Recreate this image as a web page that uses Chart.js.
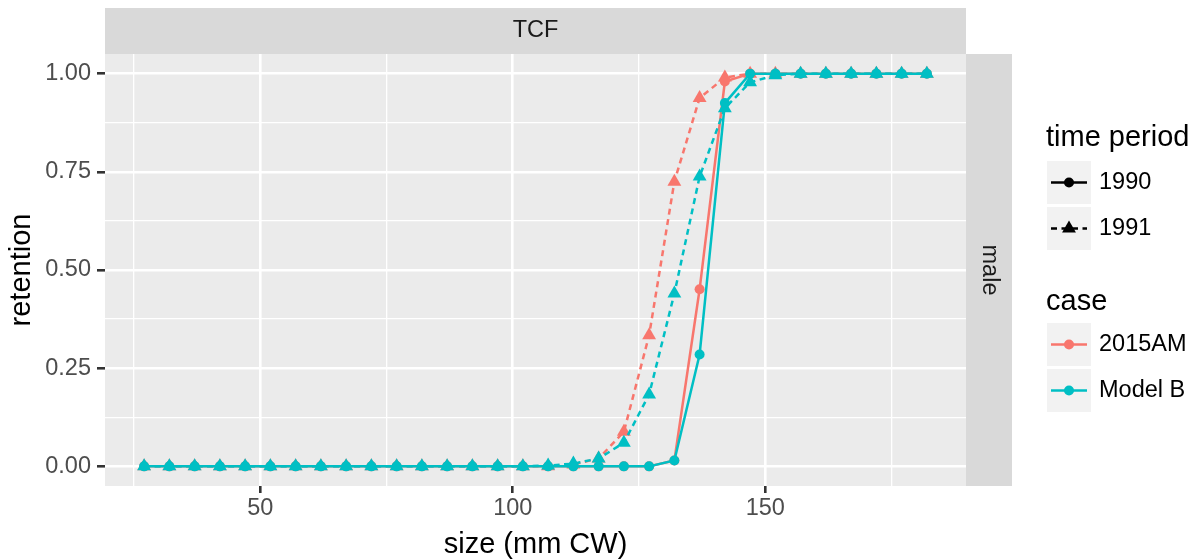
<!DOCTYPE html>
<html><head><meta charset="utf-8">
<script src="https://cdn.jsdelivr.net/npm/chart.js@4.4.1/dist/chart.umd.min.js"></script>
<style>html,body{margin:0;padding:0;background:#fff;}#wrap{width:1196px;height:559px;position:relative;}</style>
</head><body><div id="wrap"><canvas id="c" width="1196" height="559"></canvas></div>
<script>
// ---------- data ----------
const sizes = [27,32,37,42,47,52,57,62,67,72,77,82,87,92,97,102,107,112,117,122,127,132,137,142,147,152,157,162,167,172,177,182];
const am1990 = [0,0,0,0,0,0,0,0,0,0,0,0,0,0,0,0,0,0,0,0,0,0.015,0.451,0.98,1,1,1,1,1,1,1,1];
const am1991 = [0,0,0,0,0,0,0,0,0,0,0,0,0,0,0,0,0,0.005,0.02,0.088,0.334,0.725,0.938,0.99,1,1,1,1,1,1,1,1];
const mb1990 = [0,0,0,0,0,0,0,0,0,0,0,0,0,0,0,0,0,0,0,0,0,0.015,0.285,0.925,1,1,1,1,1,1,1,1];
const mb1991 = [0,0,0,0,0,0,0,0,0,0,0,0,0,0,0,0,0.002,0.007,0.02,0.06,0.183,0.44,0.738,0.912,0.978,0.996,1,1,1,1,1,1];
const xMajor = [50,100,150];
const xMinor = [25,75,125,175];
const yMajor = [0,0.25,0.5,0.75,1];
const yMinor = [0.125,0.375,0.625,0.875];
const stripTopText = 'TCF';
const stripRightText = 'male';
const periods = ['1990','1991'];
const cases = ['2015AM','Model B'];
const xTitle = 'size (mm CW)';
const yTitle = 'retention';

// ---------- style ----------
const RED = '#F8766D', TEAL = '#00BFC4';
const FONT = "'Liberation Sans', Arial, Helvetica, sans-serif";
const LW = 2.5, DASH = [6,4.5], RC = 5, RT = 8;

function pts(vals){ return sizes.map((s,i)=>({x:s,y:vals[i]})); }
function ds(label, vals, color, dashed){
  return {label, data: pts(vals), borderColor: color, backgroundColor: color,
    borderWidth: LW, borderDash: dashed ? DASH : [], pointStyle: dashed ? 'triangle' : 'circle',
    pointRadius: dashed ? RT : RC, pointBorderWidth: 0, pointHoverRadius: dashed?RT:RC,
    tension: 0, fill: false};
}

const bgPlugin = {
  id: 'ggbg',
  beforeDraw(chart){
    const {ctx, chartArea: a} = chart;
    ctx.save();
    ctx.fillStyle = '#FFFFFF'; ctx.fillRect(0,0,chart.width,chart.height);
    ctx.fillStyle = '#EBEBEB'; ctx.fillRect(a.left, a.top, a.right-a.left, a.bottom-a.top);
    // strips
    ctx.fillStyle = '#D9D9D9';
    ctx.fillRect(a.left, 8, a.right-a.left, a.top-8);
    ctx.fillRect(a.right, a.top, 46, a.bottom-a.top);
    ctx.fillStyle = '#1A1A1A';
    ctx.font = '23.5px ' + FONT;
    ctx.textAlign = 'center'; ctx.textBaseline = 'middle';
    ctx.fillText(stripTopText, (a.left+a.right)/2, (8+a.top)/2);
    ctx.translate(a.right+23, (a.top+a.bottom)/2);
    ctx.rotate(Math.PI/2);
    ctx.fillText(stripRightText, 0, 0);
    ctx.restore();
  },
  afterDraw(chart){
    const ctx = chart.ctx;
    ctx.save();
    const kx = 1047, kw = 44, kh = 43;
    function key(y, color, dashed){
      ctx.fillStyle = '#F2F2F2'; ctx.fillRect(kx, y, kw, kh);
      const cy = y + kh/2, cx = kx + kw/2;
      ctx.strokeStyle = color; ctx.lineWidth = LW;
      ctx.setLineDash(dashed ? DASH : []);
      ctx.beginPath(); ctx.moveTo(kx+4, cy); ctx.lineTo(kx+kw-4, cy); ctx.stroke();
      ctx.setLineDash([]);
      ctx.fillStyle = color;
      Chart.helpers.drawPoint(ctx, {pointStyle: dashed?'triangle':'circle', radius: dashed?RT:RC, borderWidth:0}, cx, cy);
    }
    ctx.textAlign = 'left'; ctx.textBaseline = 'middle';
    ctx.fillStyle = '#000'; ctx.font = '29px ' + FONT;
    ctx.fillText('time period', 1046, 138);
    key(161, '#000000', false);
    key(207, '#000000', true);
    ctx.fillStyle = '#000'; ctx.font = '23.5px ' + FONT;
    ctx.fillText(periods[0], 1099, 183);
    ctx.fillText(periods[1], 1099, 229);
    ctx.fillStyle = '#000'; ctx.font = '29px ' + FONT;
    ctx.fillText('case', 1046, 302);
    key(323, RED, false);
    key(369, TEAL, false);
    ctx.fillStyle = '#000'; ctx.font = '23.5px ' + FONT;
    ctx.fillText(cases[0], 1099, 345);
    ctx.fillText(cases[1], 1099, 391);
    ctx.restore();
  }
};

function tickSet(major, minor){ return [...major, ...minor].sort((a,b)=>a-b).map(v=>({value:v})); }

new Chart(document.getElementById('c'), {
  type: 'line',
  data: { datasets: [
    // Chart.js draws the first dataset on top, so list top-most first
    ds('Model B 1991', mb1991, TEAL, true),
    ds('Model B 1990', mb1990, TEAL, false),
    ds('2015AM 1991', am1991, RED, true),
    ds('2015AM 1990', am1990, RED, false)
  ]},
  options: {
    responsive: false, animation: false, devicePixelRatio: 1,
    layout: { padding: { top: 54, right: 230, left: 0, bottom: 0 } },
    plugins: { legend: { display: false }, tooltip: { enabled: false } },
    scales: {
      x: {
        type: 'linear', min: 19.25, max: 189.75,
        afterBuildTicks: s => { s.ticks = tickSet(xMajor, xMinor); },
        afterFit: s => { s.height = 73; },
        ticks: { autoSkip: false, maxRotation: 0, padding: 1.5, color: '#4D4D4D',
          font: { family: FONT, size: 23.5 },
          callback: v => xMajor.includes(v) ? String(v) : '' },
        grid: { color: '#FFFFFF', lineWidth: c => xMajor.includes(c.tick.value) ? 2.6 : 1.3,
          tickColor: c => xMajor.includes(c.tick.value) ? '#333333' : 'rgba(0,0,0,0)',
          tickLength: 7, tickWidth: 2.6 },
        border: { display: false },
        title: { display: true, text: xTitle, color: '#000', font: { family: FONT, size: 29, lineHeight: 1 }, padding: { top: 0, bottom: 0 } }
      },
      y: {
        min: -0.05, max: 1.05,
        afterBuildTicks: s => { s.ticks = tickSet(yMajor, yMinor); },
        afterFit: s => { s.width = 105; },
        ticks: { autoSkip: false, padding: 6, color: '#4D4D4D',
          font: { family: FONT, size: 23.5 },
          callback: v => yMajor.includes(v) ? v.toFixed(2) : '' },
        grid: { color: '#FFFFFF', lineWidth: c => yMajor.includes(c.tick.value) ? 2.6 : 1.3,
          tickColor: c => yMajor.includes(c.tick.value) ? '#333333' : 'rgba(0,0,0,0)',
          tickLength: 8, tickWidth: 2.6 },
        border: { display: false },
        title: { display: true, text: yTitle, color: '#000', font: { family: FONT, size: 29, lineHeight: 1 }, padding: { top: 7, bottom: 0 } }
      }
    }
  },
  plugins: [bgPlugin]
});
</script></body></html>
